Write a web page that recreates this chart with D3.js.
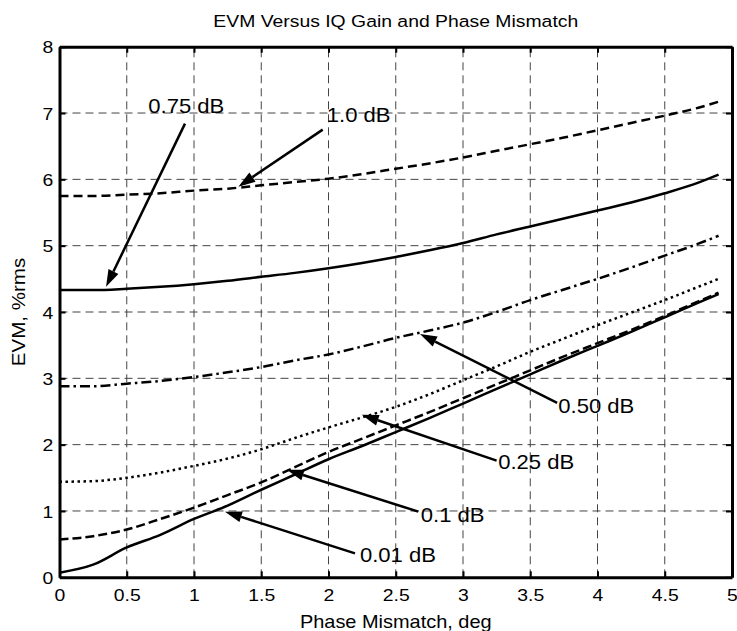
<!DOCTYPE html>
<html>
<head>
<meta charset="utf-8">
<script src="https://cdn.jsdelivr.net/npm/d3@7"></script>
<style>
  body { margin: 0; background: #fff; }
  text { font-family: "Liberation Sans", Arial, sans-serif; fill: #000; }
</style>
</head>
<body>
<div id="chart"></div>
<script>
// phase mismatch (deg) sample points
var phase = [0, 0.25, 0.5, 0.75, 1, 1.25, 1.5, 1.75, 2, 2.25, 2.5, 2.75, 3, 3.25, 3.5, 3.75, 4, 4.25, 4.5, 4.75, 4.9];

// EVM (%rms) for each gain mismatch
var evm100 = [5.75, 5.75, 5.77, 5.79, 5.83, 5.86, 5.91, 5.96, 6.01, 6.08, 6.16, 6.24, 6.33, 6.43, 6.53, 6.63, 6.74, 6.85, 6.96, 7.08, 7.17];
var evm075 = [4.33, 4.33, 4.35, 4.38, 4.42, 4.47, 4.53, 4.59, 4.66, 4.74, 4.83, 4.93, 5.04, 5.17, 5.29, 5.41, 5.53, 5.65, 5.79, 5.95, 6.07];
var evm050 = [2.88, 2.88, 2.92, 2.96, 3.02, 3.09, 3.17, 3.27, 3.36, 3.48, 3.61, 3.72, 3.84, 4.0, 4.18, 4.34, 4.5, 4.67, 4.85, 5.03, 5.15];
var evm025 = [1.44, 1.45, 1.5, 1.58, 1.68, 1.79, 1.93, 2.1, 2.26, 2.41, 2.57, 2.76, 2.97, 3.18, 3.4, 3.6, 3.8, 3.99, 4.18, 4.38, 4.5];
var evm010 = [0.57, 0.62, 0.72, 0.88, 1.05, 1.24, 1.43, 1.66, 1.89, 2.09, 2.29, 2.49, 2.7, 2.91, 3.12, 3.33, 3.53, 3.73, 3.94, 4.16, 4.29];
var evm001 = [0.07, 0.19, 0.45, 0.64, 0.88, 1.08, 1.32, 1.55, 1.78, 1.98, 2.19, 2.4, 2.62, 2.84, 3.06, 3.28, 3.49, 3.7, 3.92, 4.14, 4.27];

var xTicks = [0, 0.5, 1, 1.5, 2, 2.5, 3, 3.5, 4, 4.5, 5];
var yTicks = [0, 1, 2, 3, 4, 5, 6, 7, 8];

// annotation labels with arrow tip / tail and label anchor, in data units
var notes = [
  { text: "0.75 dB", tip: [0.346, 4.38], tail: [0.933, 6.84], at: [0.66, 7.0] },
  { text: "1.0 dB", tip: [1.33, 5.89], tail: [1.957, 6.75], at: [1.987, 6.87] },
  { text: "0.50 dB", tip: [2.68, 3.67], tail: [3.70, 2.63], at: [3.709, 2.48] },
  { text: "0.25 dB", tip: [2.247, 2.45], tail: [3.25, 1.76], at: [3.262, 1.64] },
  { text: "0.1 dB", tip: [1.69, 1.62], tail: [2.668, 0.99], at: [2.686, 0.84] },
  { text: "0.01 dB", tip: [1.23, 0.99], tail: [2.197, 0.36], at: [2.234, 0.235] }
];

var series = [
  { values: evm100, dash: "9,5" },
  { values: evm075, dash: null },
  { values: evm050, dash: "10,4,2.5,4" },
  { values: evm025, dash: "2.5,3.5" },
  { values: evm010, dash: "9,4" },
  { values: evm001, dash: null }
];

var width = 737, height = 631;
var margin = { top: 46.7, right: 5, bottom: 53.7, left: 59.5 };
var stretch = 1.14; // glyphs in the original are a little wider than Arial

var svg = d3.select("#chart").append("svg")
  .attr("width", width)
  .attr("height", height);

var x = d3.scaleLinear().domain([0, 5]).range([margin.left, width - margin.right]);
var y = d3.scaleLinear().domain([0, 8]).range([height - margin.bottom, margin.top]);

// grid
var grid = svg.append("g");
grid.selectAll(".vg").data(xTicks.slice(1, -1)).enter().append("line")
  .attr("x1", d => x(d)).attr("x2", d => x(d))
  .attr("y1", y(0)).attr("y2", y(8))
  .attr("stroke", "#444").attr("stroke-width", 1).attr("stroke-dasharray", "8,5");
grid.selectAll(".hg").data(yTicks.slice(1, -1)).enter().append("line")
  .attr("x1", x(0)).attr("x2", x(5))
  .attr("y1", d => y(d)).attr("y2", d => y(d))
  .attr("stroke", "#444").attr("stroke-width", 1).attr("stroke-dasharray", "8,5");

// curves
var line = d3.line()
  .x((d, i) => x(phase[i]))
  .y(d => y(d))
  .curve(d3.curveMonotoneX);

svg.selectAll(".curve").data(series).enter().append("path")
  .attr("d", d => line(d.values))
  .attr("fill", "none")
  .attr("stroke", "#000")
  .attr("stroke-width", 2.5)
  .attr("stroke-dasharray", d => d.dash);

// axes (box with inward ticks)
var axBottom = svg.append("g").attr("transform", "translate(0," + y(0) + ")")
  .call(d3.axisBottom(x).tickValues(xTicks).tickSizeInner(-6).tickSizeOuter(0).tickPadding(12).tickFormat(d3.format("")));
var axTop = svg.append("g").attr("transform", "translate(0," + y(8) + ")")
  .call(d3.axisTop(x).tickValues(xTicks).tickSizeInner(-6).tickSizeOuter(0).tickFormat(""));
var axLeft = svg.append("g").attr("transform", "translate(" + x(0) + ",0)")
  .call(d3.axisLeft(y).tickValues(yTicks).tickSizeInner(-6).tickSizeOuter(0).tickPadding(5.5).tickFormat(d3.format("d")));
var axRight = svg.append("g").attr("transform", "translate(" + x(5) + ",0)")
  .call(d3.axisRight(y).tickValues(yTicks).tickSizeInner(-6).tickSizeOuter(0).tickFormat(""));

[axBottom, axTop, axLeft, axRight].forEach(function (g) {
  g.select(".domain").attr("stroke", "#000").attr("stroke-width", 3);
  g.selectAll(".tick line").attr("stroke", "#000").attr("stroke-width", 2);
  g.selectAll(".tick text")
    .style("font-size", "17px")
    .style("font-family", "'Liberation Sans', Arial, sans-serif")
    .attr("fill", "#000")
    .attr("transform", "scale(" + stretch + ",1)");
});
axLeft.selectAll(".tick text").attr("dy", "0.36em");

// annotations
var notesG = svg.append("g");
notes.forEach(function (n) {
  var tx = x(n.tip[0]), ty = y(n.tip[1]);
  var sx = x(n.tail[0]), sy = y(n.tail[1]);
  var ang = Math.atan2(ty - sy, tx - sx);
  var len = 17, half = 5.5;
  var bx = tx - len * Math.cos(ang), by = ty - len * Math.sin(ang);
  notesG.append("line")
    .attr("x1", sx).attr("y1", sy).attr("x2", bx).attr("y2", by)
    .attr("stroke", "#000").attr("stroke-width", 2.5);
  notesG.append("path")
    .attr("d", "M" + tx + "," + ty +
      "L" + (bx + half * Math.sin(ang)) + "," + (by - half * Math.cos(ang)) +
      "L" + (bx - half * Math.sin(ang)) + "," + (by + half * Math.cos(ang)) + "Z")
    .attr("fill", "#000");
  notesG.append("text")
    .attr("transform", "translate(" + x(n.at[0]) + "," + y(n.at[1]) + ") scale(1.05,1)")
    .style("font-size", "21px")
    .text(n.text);
});

// titles
var midX = (x(0) + x(5)) / 2;
svg.append("text")
  .attr("transform", "translate(" + midX + ",27) scale(" + stretch + ",1)")
  .attr("text-anchor", "middle")
  .style("font-size", "17px")
  .text("EVM Versus IQ Gain and Phase Mismatch");

svg.append("text")
  .attr("transform", "translate(" + midX + ",628) scale(" + stretch + ",1)")
  .attr("text-anchor", "middle")
  .style("font-size", "17.5px")
  .text("Phase Mismatch, deg");

svg.append("text")
  .attr("transform", "translate(25," + (y(0) + y(8)) / 2 + ") rotate(-90) scale(" + stretch + ",1)")
  .attr("text-anchor", "middle")
  .style("font-size", "18px")
  .text("EVM, %rms");
</script>
</body>
</html>
